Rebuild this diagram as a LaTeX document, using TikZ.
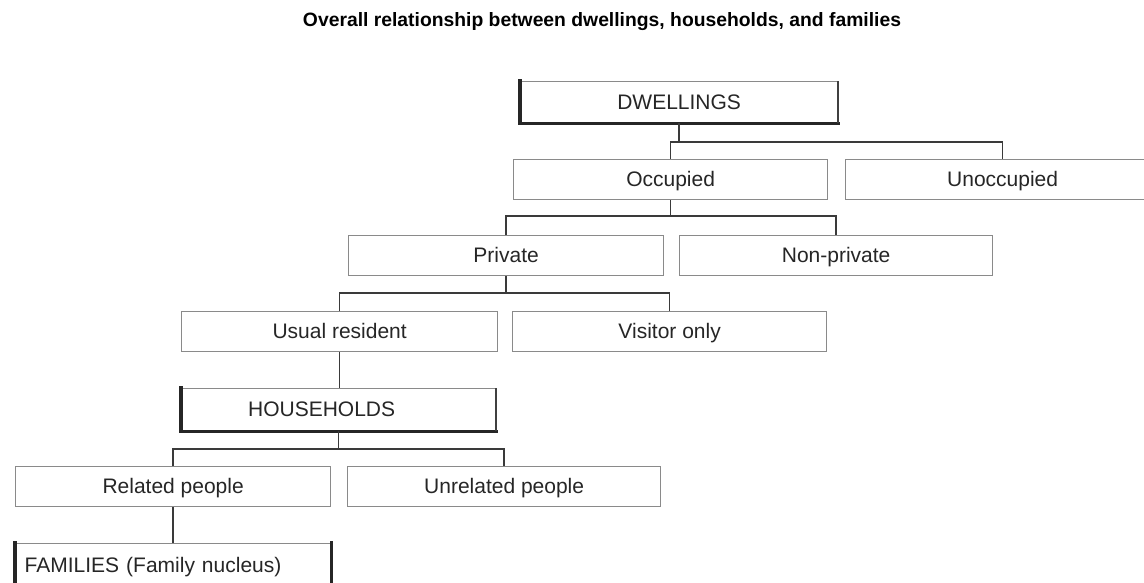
\documentclass[tikz,border=0pt]{standalone}
\usepackage{fontspec}
\setmainfont{Liberation Sans}
\definecolor{txt}{HTML}{262626}
\definecolor{boxline}{HTML}{8A8A8A}
\definecolor{connline}{HTML}{3A3A3A}
\begin{document}
\begin{tikzpicture}[x=1pt,y=-1pt,
  box/.style={draw=boxline, line width=1.3pt, fill=white, anchor=north west,
    inner sep=0pt, minimum width=315pt, minimum height=40pt, text=txt,
    text height=15pt, text depth=0.5pt,
    font=\fontsize{21}{24}\selectfont},
  conn/.style={draw=connline, line width=1.4pt},
  thickedge/.style={draw=black!85, line width=3.2pt, line cap=rect},
  darkedge/.style={draw=black!75, line width=1.8pt}]
\useasboundingbox (0,0) rectangle (1144,583);
\fill[white] (0,0) rectangle (1144,583);
% title
\node[text=black, inner sep=0pt] (title) at (602,22)
  {\resizebox{598pt}{!}{\bfseries Overall relationship between dwellings, households, and families}};
% boxes
\node[box, minimum width=317pt, minimum height=41pt] (dw) at (520,81) {DWELLINGS};
\node[box, minimum width=314pt] (occ) at (513,159) {Occupied};
\node[box, minimum width=314pt] (unocc) at (845,159) {Unoccupied};
\node[box] (priv) at (348,235) {Private};
\node[box, minimum width=313pt] (npriv) at (679,235) {Non-private};
\node[box, minimum width=316pt] (usual) at (181,311) {Usual resident};
\node[box, minimum width=314pt] (visit) at (512,311) {Visitor only};
\node[box, minimum width=314pt, minimum height=42pt] (hh) at (181,388) {\hspace*{-34pt}HOUSEHOLDS};
\node[box, minimum width=315pt] (rel) at (15,466) {Related people};
\node[box, minimum width=313pt] (unrel) at (347,466) {Unrelated people};
\node[box, minimum width=315pt, minimum height=44pt, align=left, text width=305pt, inner xsep=5pt] (fam) at (15,543) {\hspace*{4pt}FAMILIES (Family nucleus)};
% heavy edges
\draw[thickedge] (dw.north west) -- (dw.south west) -- (dw.south east);
\draw[darkedge] (dw.south east) -- (dw.north east);
\draw[thickedge] (hh.north west) -- (hh.south west) -- (hh.south east);
\draw[darkedge] (hh.south east) -- (hh.north east);
\draw[thickedge] (fam.north west) -- (fam.south west);
\draw[thickedge] (fam.north east) -- (fam.south east);
% bars
\coordinate (bar1) at (0,142);
\coordinate (bar2) at (0,216);
\coordinate (bar3) at (0,293);
\coordinate (bar4) at (0,449);
\draw[conn] (dw.south) -- (dw.south |- bar1);
\draw[conn] (occ.north) -- (occ.north |- bar1) -- (unocc.north |- bar1) -- (unocc.north);
\draw[conn] (occ.south) -- (occ.south |- bar2);
\draw[conn] (priv.north) -- (priv.north |- bar2) -- (npriv.north |- bar2) -- (npriv.north);
\draw[conn] (priv.south) -- (priv.south |- bar3);
\draw[conn] (usual.north) -- (usual.north |- bar3) -- (visit.north |- bar3) -- (visit.north);
\draw[conn] (usual.south) -- (hh.north -| usual.south);
\draw[conn] (hh.south) -- (hh.south |- bar4);
\draw[conn] (rel.north) -- (rel.north |- bar4) -- (unrel.north |- bar4) -- (unrel.north);
\draw[conn] (rel.south) -- (fam.north -| rel.south);
\end{tikzpicture}
\end{document}
